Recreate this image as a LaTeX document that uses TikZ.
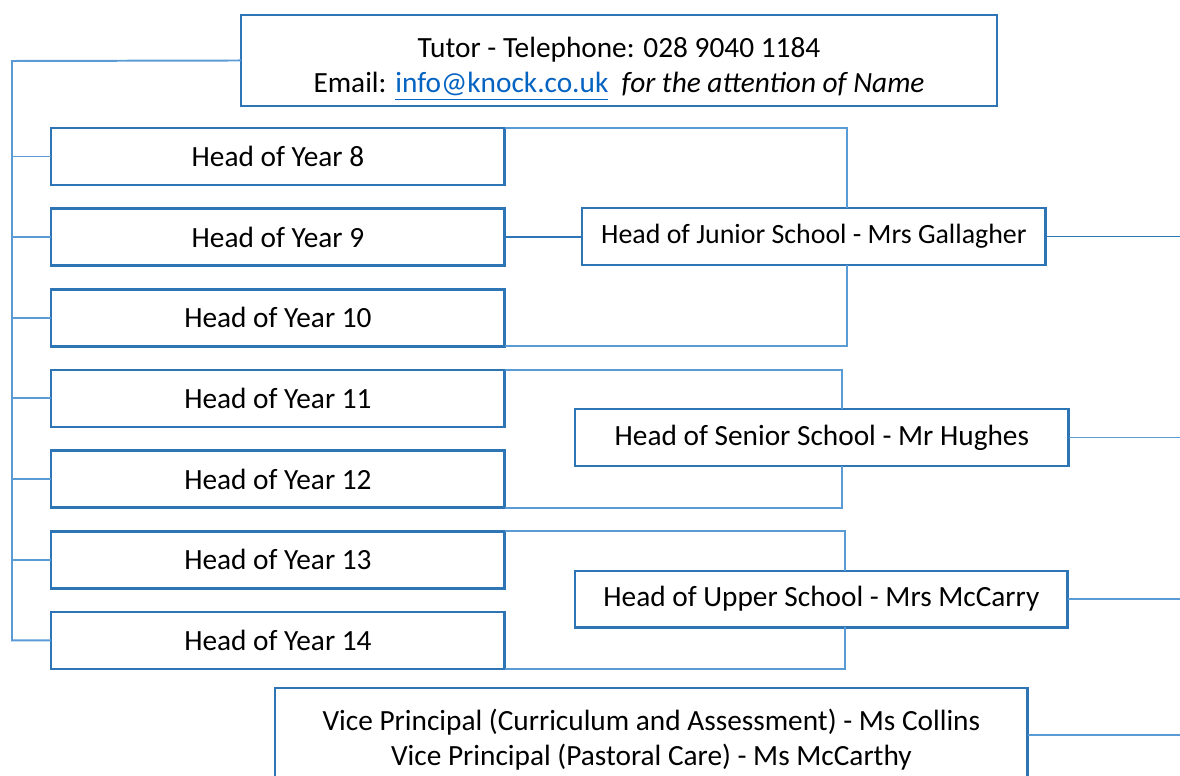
\documentclass[tikz,border=0pt]{standalone}
\usepackage{fontspec}
\setmainfont{Carlito}
\usepackage{tikz}
\usetikzlibrary{positioning}
\definecolor{boxblue}{RGB}{46,117,182}
\definecolor{linkblue}{RGB}{91,155,213}
\definecolor{maillink}{RGB}{5,99,193}
\tikzset{post/.style={draw=boxblue, line width=1.3pt, fill=white, align=center, inner sep=0pt, outer sep=0pt, font=\fontsize{13.35}{16.2}\selectfont},
yearbox/.style={post, minimum width=7.264cm, minimum height=0.912cm},
link/.style={draw=linkblue, line width=0.9pt},
linkd/.style={draw=boxblue, line width=0.9pt}}

\begin{document}
\begin{tikzpicture}[x=0.016cm, y=-0.016cm, node distance=0.379cm]
  \useasboundingbox (0,0) rectangle (1180,776);
  \node[post, anchor=north west, minimum width=12.1cm, minimum height=1.456cm, text height=33pt] (tutor) at (241,15)
    {Tutor - Telephone: 028 9040 1184\\ Email: \textcolor{maillink}{\underline{info@knock.co.uk}}\ \ \textit{for the attention of Name}};
  \node[yearbox, anchor=north west] (y8) at (51,128) {Head of Year 8};
  \node[yearbox, below=of y8] (y9) {Head of Year 9};
  \node[yearbox, below=of y9] (y10) {Head of Year 10};
  \node[yearbox, below=of y10] (y11) {Head of Year 11};
  \node[yearbox, below=of y11] (y12) {Head of Year 12};
  \node[yearbox, below=of y12] (y13) {Head of Year 13};
  \node[yearbox, below=of y13] (y14) {Head of Year 14};
  \node[post, anchor=north west, minimum width=7.424cm, minimum height=0.912cm, font=\fontsize{12.7}{16}\selectfont] (junior) at (582,208) {Head of Junior School - Mrs Gallagher};
  \node[post, anchor=north west, minimum width=7.904cm, minimum height=0.912cm] (senior) at (575,409) {Head of Senior School - Mr Hughes};
  \node[post, anchor=north west, minimum width=7.888cm, minimum height=0.9cm] (upper) at (575,571) {Head of Upper School - Mrs McCarry};
  \node[post, anchor=north west, minimum width=12.05cm, inner ysep=0.33cm, text depth=1.2cm] (vice) at (275,688)
    {Vice Principal (Curriculum and Assessment) - Ms Collins\\ Vice Principal (Pastoral Care) - Ms McCarthy};
  \coordinate (spine) at (12,61);
  \coordinate (jb) at (847,0);
  \coordinate (sb) at (842,0);
  \coordinate (ub) at (845,0);
  \coordinate (edge) at (1180,0);
  \draw[link] (tutor.west) -- (spine) |- (y14.west);
  \foreach \n in {8,...,13}
    \draw[link] (y\n.west) -- (spine |- y\n.west);
  \draw[link] (y8.north east) -| (jb |- junior.north);
  \draw[link] (jb |- junior.south) |- (y10.south east);
  \draw[linkd] (y9.east) -- (y9.east -| junior.west);
  \draw[linkd] (junior.east) -- (edge |- junior.east);
  \draw[link] (y11.north east) -| (sb |- senior.north);
  \draw[link] (sb |- senior.south) |- (y12.south east);
  \draw[link] (senior.east) -- (edge |- senior.east);
  \draw[link] (y13.north east) -| (ub |- upper.north);
  \draw[link] (ub |- upper.south) |- (y14.south east);
  \draw[link] (upper.east) -- (edge |- upper.east);
  \draw[link] (vice.east |- 0,735) -- (edge |- 0,735);
\end{tikzpicture}
\end{document}
